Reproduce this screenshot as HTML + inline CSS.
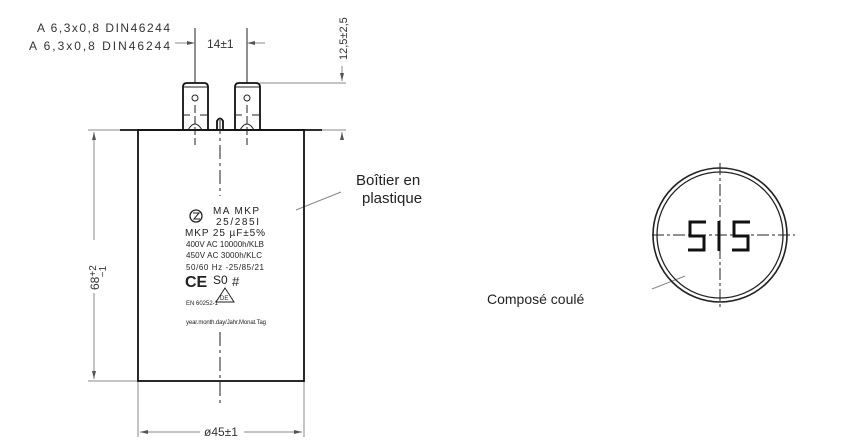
<!DOCTYPE html>
<html><head><style>body{margin:0;background:#fff}svg{display:block}</style></head><body>
<svg width="850" height="446" viewBox="0 0 850 446" xmlns="http://www.w3.org/2000/svg" font-family="Liberation Sans, sans-serif">
<g stroke="#888" stroke-width="1" fill="none">
<line x1="88" y1="130" x2="138" y2="130"/><line x1="88" y1="381" x2="138" y2="381"/>
<line x1="94" y1="132" x2="94" y2="240"/><line x1="94" y1="293" x2="94" y2="379"/>
<line x1="138" y1="381" x2="138" y2="437"/><line x1="304" y1="381" x2="304" y2="437"/>
<line x1="140" y1="432" x2="200" y2="432"/><line x1="244" y1="432" x2="302" y2="432"/>
<line x1="260" y1="83" x2="346" y2="83"/><line x1="304" y1="130" x2="346" y2="130"/>
<line x1="342" y1="66" x2="342" y2="81"/><line x1="342" y1="132" x2="342" y2="140"/>
<line x1="175" y1="43" x2="193" y2="43"/><line x1="249" y1="43" x2="265" y2="43"/>
<line x1="296" y1="210" x2="341" y2="192"/>
<line x1="652" y1="289" x2="685" y2="276"/>
</g>
<g fill="#555">
<polygon points="94,132 92,140 96,140"/><polygon points="94,379 92,371 96,371"/>
<polygon points="140,432 148,430 148,434"/><polygon points="302,432 294,430 294,434"/>
<polygon points="342,81 340,73 344,73"/><polygon points="342,132 340,140 344,140"/>
<polygon points="195,43 187,41 187,45"/><polygon points="247,43 255,41 255,45"/>
</g>
<g stroke="#222" stroke-width="1" fill="none">
<line x1="195" y1="28" x2="195" y2="83"/><line x1="247" y1="28" x2="247" y2="83"/>
</g>
<g stroke="#111" stroke-width="1.8" fill="none">
<rect x="138" y="130" width="166" height="251"/>
<line x1="120" y1="130" x2="322" y2="130"/>
<path d="M183 130 V87 Q183 83 187 83 H204 Q208 83 208 87 V130"/>
<path d="M235 130 V87 Q235 83 239 83 H256 Q260 83 260 87 V130"/>
<path d="M217 130 V121 Q220 116 223 121 V130"/>
</g>
<g stroke="#222" stroke-width="1" fill="none">
<circle cx="195" cy="98" r="3"/><circle cx="247" cy="98" r="3"/>
<path d="M184 87 H207"/><path d="M236 87 H259"/>
<path d="M184 115 H190 M200 115 H207 M236 115 H242 M252 115 H259"/>
<path d="M188 130 Q195 118 202 130 M240 130 Q247 118 254 130"/>
<line x1="195" y1="105" x2="195" y2="145" stroke-dasharray="8,3"/>
<line x1="247" y1="105" x2="247" y2="145" stroke-dasharray="8,3"/>
<line x1="220" y1="120" x2="220" y2="196" stroke-dasharray="14,4,3,4"/>
<line x1="220" y1="332" x2="220" y2="405" stroke-dasharray="14,4,3,4"/>
<circle cx="720" cy="235" r="67" stroke-width="1.6"/>
<circle cx="720" cy="235" r="63" stroke-width="1.3"/>
<line x1="720" y1="163" x2="720" y2="308" stroke-dasharray="12,3,3,3"/>
<line x1="652" y1="235" x2="795" y2="235" stroke-dasharray="12,3,3,3"/>
</g>
<g stroke="#111" stroke-width="3" fill="none">
<path d="M706 222 H690 V236 H704 V250 H688"/>
<line x1="719" y1="221" x2="719" y2="251"/>
<path d="M750 222 H734 V236 H748 V250 H732"/>
</g>
<g fill="#333" font-size="12">
<text x="37" y="32" textLength="133">A  6,3x0,8  DIN46244</text>
<text x="29" y="50" textLength="141">A  6,3x0,8  DIN46244</text>
<text x="207" y="48">14±1</text>
<text transform="translate(347,60) rotate(-90)" font-size="11">12,5±2,5</text>
<text transform="translate(99,290) rotate(-90)" font-size="12">68<tspan font-size="10" dy="-3">+2</tspan><tspan font-size="10" dx="-12" dy="10">−1</tspan></text>
<text x="204" y="436" font-size="12">ø45±1</text>
<text x="356" y="185" font-size="15" fill="#222">Boîtier en</text>
<text x="362" y="203" font-size="15" fill="#222">plastique</text>
<text x="487" y="304" font-size="14" fill="#222">Composé coulé</text>
</g>
<g fill="#222" font-size="9">
<circle cx="196" cy="216" r="6" fill="none" stroke="#222" stroke-width="1.3"/>
<path d="M193 213 H199 L194 219 H200" fill="none" stroke="#222"/>
<text x="213" y="214" font-size="10" textLength="46">MA  MKP</text>
<text x="216" y="225" font-size="10" textLength="43">25/285I</text>
<text x="185" y="236" font-size="10" textLength="80">MKP 25 µF±5%</text>
<text x="186" y="247" font-size="8" textLength="78">400V AC 10000h/KLB</text>
<text x="186" y="258" font-size="8" textLength="76">450V AC  3000h/KLC</text>
<text x="186" y="270" font-size="8" textLength="78">50/60 Hz -25/85/21</text>
<text x="185" y="287" font-size="16" font-weight="bold">CE</text>
<text x="213" y="284" font-size="12">S0</text>
<text x="232" y="286" font-size="13">#</text>
<polygon points="225,288 216,302 234,302" fill="none" stroke="#222"/>
<text x="220" y="300" font-size="6">DE</text>
<text x="186" y="305" font-size="6">EN 60252-1</text>
<text x="186" y="324" font-size="6" textLength="80">year.month.day/Jahr.Monat.Tag</text>
</g>
</svg>
</body></html>
